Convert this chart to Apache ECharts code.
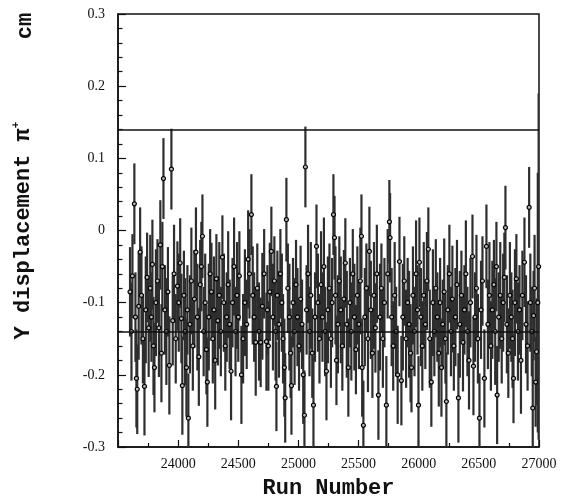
<!DOCTYPE html>
<html>
<head>
<meta charset="utf-8">
<script src="https://cdn.jsdelivr.net/npm/echarts@6/dist/echarts.min.js"></script>
<style>
  html, body { margin: 0; padding: 0; background: #fff; }
  #chart { width: 561px; height: 504px; }
</style>
</head>
<body>
<div id="chart"></div>
<script>
// run numbers
const runNumbers = [
  23600, 23612, 23620, 23636, 23645, 23653, 23660, 23672, 23684, 23695,
  23707, 23720, 23731, 23742, 23755, 23768, 23778, 23786, 23795, 23803,
  23815, 23828, 23840, 23852, 23861, 23869, 23878, 23890, 23902, 23915,
  23927, 23944, 23955, 23966, 23980, 23994, 24005, 24017, 24027, 24035,
  24048, 24058, 24069, 24077, 24085, 24098, 24110, 24122, 24135, 24148,
  24160, 24172, 24183, 24193, 24202, 24212, 24225, 24235, 24243, 24255,
  24266, 24277, 24288, 24298, 24308, 24318, 24330, 24342, 24355, 24368,
  24380, 24392, 24404, 24416, 24428, 24440, 24452, 24465, 24477, 24490,
  24500, 24509, 24526, 24540, 24555, 24570, 24582, 24593, 24609, 24620,
  24632, 24645, 24658, 24672, 24686, 24700, 24715, 24734, 24742, 24750,
  24762, 24775, 24788, 24800, 24810, 24817, 24825, 24838, 24850, 24862,
  24872, 24883, 24890, 24900, 24912, 24925, 24935, 24942, 24955, 24968,
  24980, 24992, 25005, 25018, 25030, 25040, 25050, 25058, 25068, 25080,
  25092, 25103, 25115, 25125, 25138, 25150, 25162, 25175, 25188, 25200,
  25212, 25222, 25233, 25245, 25258, 25270, 25280, 25291, 25300, 25308,
  25316, 25328, 25340, 25352, 25365, 25378, 25390, 25402, 25415, 25428,
  25440, 25452, 25465, 25478, 25490, 25503, 25515, 25524, 25530, 25540,
  25552, 25565, 25578, 25590, 25602, 25615, 25628, 25640, 25652, 25665,
  25678, 25690, 25702, 25715, 25731, 25742, 25756, 25762, 25775, 25788,
  25800, 25812, 25825, 25840, 25856, 25868, 25880, 25895, 25908, 25920,
  25932, 25940, 25952, 25965, 25978, 25990, 25998, 26006, 26018, 26030,
  26042, 26055, 26068, 26080, 26092, 26105, 26118, 26130, 26142, 26155,
  26167, 26178, 26189, 26200, 26212, 26222, 26230, 26242, 26255, 26268,
  26280, 26292, 26305, 26318, 26330, 26342, 26355, 26368, 26380, 26392,
  26405, 26418, 26430, 26447, 26455, 26468, 26480, 26492, 26505, 26518,
  26530, 26546, 26563, 26575, 26588, 26600, 26612, 26625, 26636, 26646,
  26652, 26665, 26678, 26690, 26702, 26712, 26721, 26733, 26745, 26758,
  26770, 26780, 26788, 26800, 26812, 26825, 26838, 26850, 26862, 26879,
  26892, 26905, 26918, 26928, 26940, 26948, 26955, 26963, 26972, 26980,
  26990, 26997
];

// Y displacement (cm)
const yDisplacement = [
  -0.085, -0.14, -0.063, 0.037, -0.12, -0.205, -0.22, -0.105, -0.03, -0.09,
  -0.15, -0.216, -0.11, -0.065, -0.135, -0.08, -0.12, -0.047, -0.16, -0.19,
  -0.1, -0.07, -0.135, -0.02, -0.17, -0.05, 0.072, -0.11, -0.14, -0.085,
  -0.187, 0.085, -0.125, -0.06, -0.15, -0.077, -0.1, -0.045, -0.122, -0.215,
  -0.09, -0.14, -0.19, -0.11, -0.26, -0.13, -0.07, -0.16, -0.095, -0.03,
  -0.12, -0.175, -0.075, -0.05, -0.008, -0.14, -0.1, -0.165, -0.21, -0.12,
  -0.06, -0.085, -0.15, -0.11, -0.18, -0.067, -0.125, -0.09, -0.14, -0.037,
  -0.1, -0.16, -0.12, -0.075, -0.13, -0.195, -0.1, -0.05, -0.14, -0.09,
  -0.12, -0.063, -0.2, -0.15, -0.1, -0.13, -0.04, -0.06, 0.022, -0.09,
  -0.12, -0.155, -0.08, -0.14, -0.155, -0.105, -0.06, -0.154, -0.11, -0.16,
  -0.085, -0.029, -0.12, -0.07, -0.14, -0.216, -0.09, -0.13, -0.06, -0.1,
  -0.15, -0.19, -0.232, 0.015, -0.08, -0.12, -0.17, -0.215, -0.1, -0.14,
  -0.075, -0.12, -0.16, -0.095, -0.13, -0.2, -0.256, 0.088, -0.11, -0.06,
  -0.14, -0.09, -0.17, -0.242, -0.12, -0.022, -0.1, -0.15, -0.075, -0.12,
  -0.05, -0.14, -0.195, -0.11, -0.08, -0.15, -0.1, 0.022, -0.01, -0.09,
  -0.18, -0.13, -0.07, -0.11, -0.16, -0.095, -0.045, -0.13, -0.19, -0.1,
  -0.14, -0.06, -0.12, -0.165, -0.09, -0.13, -0.07, -0.008, -0.19, -0.27,
  -0.12, -0.08, -0.15, -0.029, -0.11, -0.17, -0.09, -0.135, -0.06, -0.228,
  -0.12, -0.08, -0.15, -0.1, -0.242, -0.06, 0.012, -0.01, -0.12, -0.16,
  -0.09, -0.14, -0.2, -0.043, -0.208, -0.12, -0.07, -0.15, -0.1, -0.13,
  -0.17, -0.19, -0.09, -0.14, -0.06, -0.11, -0.242, -0.044, -0.12, -0.16,
  -0.09, -0.13, -0.07, -0.026, -0.15, -0.21, -0.1, -0.14, -0.08, -0.12,
  -0.17, -0.1, -0.19, -0.13, -0.085, -0.15, -0.237, -0.11, -0.06, -0.14,
  -0.095, -0.16, -0.12, -0.075, -0.232, -0.13, -0.09, -0.155, -0.11, -0.06,
  -0.14, -0.18, -0.1, -0.036, -0.188, -0.12, -0.08, -0.15, -0.26, -0.11,
  -0.07, -0.205, -0.022, -0.13, -0.09, -0.16, -0.11, -0.075, -0.14, -0.05,
  -0.228, -0.12, -0.09, -0.15, -0.1, -0.065, 0.004, -0.13, -0.17, -0.09,
  -0.12, -0.15, -0.205, -0.1, -0.067, -0.14, -0.11, -0.18, -0.09, -0.044,
  -0.13, -0.16, 0.032, -0.1, -0.14, -0.246, -0.118, -0.08, -0.21, -0.168,
  -0.1, -0.05
];

// half length of each error bar
const yError = [
  0.062, 0.068, 0.058, 0.056, 0.062, 0.068, 0.062, 0.074, 0.062, 0.068,
  0.062, 0.068, 0.074, 0.062, 0.068, 0.074, 0.062, 0.062, 0.068, 0.062,
  0.074, 0.058, 0.068, 0.062, 0.068, 0.062, 0.056, 0.062, 0.074, 0.062,
  0.068, 0.056, 0.062, 0.068, 0.062, 0.062, 0.068, 0.062, 0.062, 0.068,
  0.062, 0.074, 0.068, 0.062, 0.062, 0.068, 0.074, 0.062, 0.068, 0.062,
  0.074, 0.068, 0.062, 0.062, 0.058, 0.062, 0.068, 0.062, 0.062, 0.074,
  0.062, 0.068, 0.062, 0.074, 0.068, 0.062, 0.062, 0.074, 0.062, 0.058,
  0.068, 0.062, 0.062, 0.074, 0.062, 0.068, 0.062, 0.068, 0.062, 0.074,
  0.062, 0.062, 0.068, 0.062, 0.074, 0.062, 0.068, 0.062, 0.056, 0.068,
  0.062, 0.074, 0.062, 0.068, 0.062, 0.074, 0.062, 0.068, 0.062, 0.062,
  0.068, 0.062, 0.074, 0.062, 0.068, 0.062, 0.062, 0.074, 0.062, 0.068,
  0.062, 0.068, 0.062, 0.058, 0.062, 0.074, 0.062, 0.068, 0.062, 0.074,
  0.062, 0.068, 0.062, 0.074, 0.062, 0.068, 0.062, 0.056, 0.062, 0.068,
  0.062, 0.074, 0.062, 0.068, 0.062, 0.058, 0.068, 0.062, 0.074, 0.062,
  0.068, 0.062, 0.068, 0.074, 0.062, 0.068, 0.062, 0.056, 0.058, 0.068,
  0.062, 0.068, 0.062, 0.074, 0.062, 0.068, 0.062, 0.074, 0.068, 0.062,
  0.068, 0.062, 0.074, 0.062, 0.068, 0.062, 0.074, 0.058, 0.068, 0.062,
  0.068, 0.062, 0.074, 0.062, 0.068, 0.062, 0.074, 0.062, 0.068, 0.062,
  0.074, 0.062, 0.068, 0.062, 0.068, 0.062, 0.058, 0.062, 0.068, 0.062,
  0.074, 0.062, 0.068, 0.062, 0.062, 0.074, 0.062, 0.068, 0.062, 0.074,
  0.068, 0.062, 0.068, 0.062, 0.074, 0.062, 0.068, 0.062, 0.068, 0.062,
  0.074, 0.062, 0.068, 0.058, 0.068, 0.062, 0.074, 0.062, 0.068, 0.062,
  0.074, 0.062, 0.068, 0.062, 0.074, 0.062, 0.068, 0.062, 0.068, 0.062,
  0.074, 0.062, 0.068, 0.062, 0.062, 0.074, 0.062, 0.068, 0.062, 0.074,
  0.062, 0.068, 0.062, 0.058, 0.068, 0.062, 0.074, 0.062, 0.062, 0.068,
  0.062, 0.068, 0.058, 0.062, 0.074, 0.062, 0.068, 0.062, 0.074, 0.062,
  0.068, 0.062, 0.074, 0.062, 0.068, 0.062, 0.058, 0.068, 0.062, 0.074,
  0.062, 0.068, 0.062, 0.074, 0.062, 0.068, 0.062, 0.074, 0.062, 0.062,
  0.068, 0.062, 0.056, 0.068, 0.062, 0.068, 0.062, 0.074, 0.062, 0.074,
  0.18, 0.24
];

// the two horizontal reference lines
const cutLevels = [0.135, -0.137];

const ink = '#111';
const chart = echarts.init(document.getElementById('chart'), null, { renderer: 'canvas' });

const errorData = runNumbers.map((r, i) => [r, yDisplacement[i] - yError[i], yDisplacement[i] + yError[i]]);
const pointData = runNumbers.map((r, i) => [r, yDisplacement[i]]);

chart.setOption({
  animation: false,
  backgroundColor: '#fff',
  grid: {
    left: 118, right: 22, top: 14, bottom: 54,
    show: true, borderColor: ink, borderWidth: 1.5
  },
  xAxis: {
    type: 'value',
    min: 23500, max: 27000, interval: 500,
    name: 'Run Number',
    nameLocation: 'middle',
    nameGap: 30,
    nameTextStyle: { fontFamily: 'Liberation Mono', fontWeight: 'bold', fontSize: 22, color: ink },
    axisLine: { onZero: false, lineStyle: { color: ink, width: 1.5 } },
    axisTick: { inside: true, length: 7, lineStyle: { color: ink, width: 1.2 } },
    minorTick: { show: true, splitNumber: 2, length: 4, lineStyle: { color: ink, width: 1.2 } },
    splitLine: { show: false },
    axisLabel: {
      showMinLabel: false,
      margin: 10,
      fontFamily: 'Liberation Serif', fontSize: 14, color: ink,
      formatter: v => String(v)
    }
  },
  yAxis: {
    type: 'value',
    min: -0.3, max: 0.3, interval: 0.1,
    name: 'Y displacement π{sup|+}',
    nameLocation: 'middle',
    nameRotate: 90,
    nameGap: 82,
    nameTextStyle: {
      fontFamily: 'Liberation Mono', fontWeight: 'bold', fontSize: 22, color: ink,
      rich: { sup: { fontFamily: 'Liberation Mono', fontWeight: 'bold', fontSize: 11, color: ink, padding: [0, 0, 14, 0] } }
    },
    axisLine: { onZero: false, lineStyle: { color: ink, width: 1.5 } },
    axisTick: { inside: true, length: 8, lineStyle: { color: ink, width: 1.2 } },
    minorTick: { show: true, splitNumber: 5, length: 4.5, lineStyle: { color: ink, width: 1.2 } },
    splitLine: { show: false },
    axisLabel: {
      margin: 13,
      fontFamily: 'Liberation Serif', fontSize: 14, color: ink,
      formatter: v => {
        const r = Math.round(v * 10) / 10;
        return r === 0 ? '0' : String(r);
      }
    }
  },
  graphic: [{
    type: 'text',
    x: 25, y: 26,
    rotation: Math.PI / 2,
    style: {
      text: 'cm',
      font: 'bold 22px "Liberation Mono"',
      fill: ink,
      textAlign: 'center',
      textVerticalAlign: 'middle'
    }
  }],
  series: [
    {
      type: 'custom',
      clip: true,
      silent: true,
      encode: { x: 0, y: [1, 2] },
      data: errorData,
      renderItem: (params, api) => {
        const x = api.value(0);
        const lo = api.coord([x, api.value(1)]);
        const hi = api.coord([x, api.value(2)]);
        return {
          type: 'line',
          shape: { x1: lo[0], y1: lo[1], x2: hi[0], y2: hi[1] },
          style: { stroke: '#2e2e2e', lineWidth: 2.2 }
        };
      }
    },
    {
      type: 'scatter',
      silent: true,
      data: pointData,
      symbol: 'circle',
      symbolSize: 4,
      itemStyle: { color: '#bbb', borderColor: '#000', borderWidth: 1.2, opacity: 1 },
      markLine: {
        silent: true,
        symbol: 'none',
        label: { show: false },
        lineStyle: { color: ink, width: 1.5, type: 'solid' },
        data: cutLevels.map(v => ({ yAxis: v }))
      }
    }
  ]
});
</script>
</body>
</html>
